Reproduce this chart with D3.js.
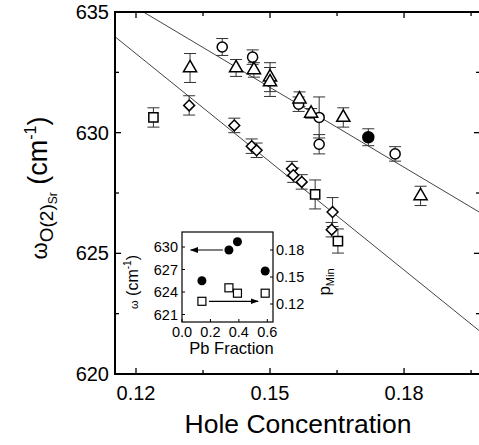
<!DOCTYPE html>
<html>
<head>
<meta charset="utf-8">
<script src="https://cdn.jsdelivr.net/npm/d3@7"></script>
<style>
  body { margin: 0; background: #fff; }
  svg { display: block; font-family: Arial, "Liberation Sans", sans-serif; }
</style>
</head>
<body>
<svg id="chart" width="479" height="445"></svg>
<script>
// main panel: hole concentration vs omega, error in cm-1
var circleX = [0.1393, 0.1461, 0.1564, 0.1610, 0.1610, 0.1780];
var circleY = [633.55, 633.13, 631.18, 630.63, 629.52, 629.12];
var circleErr = [0.35, 0.3, 0.3, 0.85, 0.4, 0.3];

var filledX = [0.1720];
var filledY = [629.81];
var filledErr = [0.35];

var triX = [0.1321, 0.1424, 0.1464, 0.1500, 0.1500, 0.1566, 0.1592, 0.1664, 0.1837];
var triY = [632.68, 632.68, 632.60, 632.30, 632.10, 631.39, 630.80, 630.63, 627.38];
var triErr = [0.6, 0.35, 0.3, 0.6, 0.6, 0.3, 0.2, 0.4, 0.4];

var diaX = [0.1319, 0.1420, 0.1459, 0.1470, 0.1549, 0.1552, 0.1571, 0.1640, 0.1638];
var diaY = [631.13, 630.30, 629.44, 629.27, 628.51, 628.24, 627.96, 626.71, 625.98];
var diaErr = [0.4, 0.3, 0.3, 0.3, 0.3, 0.3, 0.3, 0.6, 0.3];

var sqX = [0.1239, 0.1601, 0.1652];
var sqY = [630.63, 627.44, 625.51];
var sqErr = [0.4, 0.6, 0.5];

// linear fits: omega = intercept + slope * p
var fitIntercept = [648.42, 651.20];
var fitSlope = [-110.3, -149.4];

var xTicks = [0.12, 0.15, 0.18];
var xMinor = [0.135, 0.165, 0.195];
var yTicks = [620, 625, 630, 635];
var yMinor = [622.5, 627.5, 632.5];

// inset: Pb fraction
var pbX = [0.14, 0.33, 0.39, 0.585];
var pbOmega = [625.5, 629.6, 630.7, 626.8];
var pbOmegaErr = [0, 0.4, 0, 0];
var pbPmin = [0.123, 0.138, 0.132, 0.132];
var insetXTicks = [0.0, 0.2, 0.4, 0.6];
var insetYTicks = [621, 624, 627, 630];
var insetPTicks = [0.12, 0.15, 0.18];

var svg = d3.select('#chart');

var L = 115, R = 480, T = 12, B = 374;
var x = d3.scaleLinear().domain([0.1153, 0.1970]).range([L, R]);
var y = d3.scaleLinear().domain([620, 635]).range([B, T]);

svg.append('clipPath').attr('id', 'clip')
  .append('rect').attr('x', L).attr('y', T).attr('width', R - L).attr('height', B - T);

// fit lines
var fitLine = d3.line().x(function(d) { return x(d[0]); }).y(function(d) { return y(d[1]); });
var dom = x.domain();
for (var f = 0; f < fitSlope.length; f++) {
  var pts = dom.map(function(v) { return [v, fitIntercept[f] + fitSlope[f] * v]; });
  svg.append('path')
    .attr('clip-path', 'url(#clip)')
    .attr('d', fitLine(pts))
    .attr('fill', 'none')
    .attr('stroke', '#444')
    .attr('stroke-width', 1);
}

function zip(xs, ys, es) {
  return xs.map(function(v, i) { return { x: v, y: ys[i], e: es[i] }; });
}

function errorBars(data) {
  var g = svg.append('g').attr('stroke', '#333').attr('stroke-width', 1);
  data.forEach(function(d) {
    if (!d.e) return;
    var cx = x(d.x), y0 = y(d.y - d.e), y1 = y(d.y + d.e);
    g.append('line').attr('x1', cx).attr('x2', cx).attr('y1', y0).attr('y2', y1);
    g.append('line').attr('x1', cx - 6).attr('x2', cx + 6).attr('y1', y0).attr('y2', y0);
    g.append('line').attr('x1', cx - 6).attr('x2', cx + 6).attr('y1', y1).attr('y2', y1);
  });
}

function markers(data, type, size, fill) {
  svg.append('g').selectAll('path')
    .data(data)
    .enter()
    .append('path')
      .attr('transform', function(d) { return 'translate(' + x(d.x) + ',' + y(d.y) + ')'; })
      .attr('d', d3.symbol().type(type).size(size))
      .attr('fill', fill)
      .attr('stroke', '#000')
      .attr('stroke-width', 1.5);
}

var circles = zip(circleX, circleY, circleErr);
var filled = zip(filledX, filledY, filledErr);
var tris = zip(triX, triY, triErr);
var dias = zip(diaX, diaY, diaErr);
var sqs = zip(sqX, sqY, sqErr);

[circles, filled, tris, dias, sqs].forEach(errorBars);

markers(circles, d3.symbolCircle, 80, '#fff');
markers(filled, d3.symbolCircle, 95, '#000');
markers(tris, d3.symbolTriangle, 75, '#fff');
markers(dias, d3.symbolDiamond2 || d3.symbolDiamond, 75, '#fff');
markers(sqs, d3.symbolSquare, 85, '#fff');

// main frame and axes
svg.append('rect')
  .attr('x', L).attr('y', T).attr('width', R - L).attr('height', B - T)
  .attr('fill', 'none').attr('stroke', '#000').attr('stroke-width', 2);

var ticks = svg.append('g').attr('stroke', '#000').attr('stroke-width', 1.3);
xTicks.concat(xMinor).forEach(function(v) {
  var len = xTicks.indexOf(v) >= 0 ? 6 : 4;
  ticks.append('line').attr('x1', x(v)).attr('x2', x(v)).attr('y1', B).attr('y2', B - len);
  ticks.append('line').attr('x1', x(v)).attr('x2', x(v)).attr('y1', T).attr('y2', T + len);
});
yTicks.concat(yMinor).forEach(function(v) {
  var len = yTicks.indexOf(v) >= 0 ? 6 : 4;
  ticks.append('line').attr('x1', L).attr('x2', L + len).attr('y1', y(v)).attr('y2', y(v));
  ticks.append('line').attr('x1', R).attr('x2', R - len).attr('y1', y(v)).attr('y2', y(v));
});

svg.append('g').selectAll('text')
  .data(xTicks)
  .enter()
  .append('text')
    .attr('x', function(d) { return x(d); })
    .attr('y', B + 26)
    .attr('text-anchor', 'middle')
    .attr('font-size', 20)
    .text(function(d) { return d3.format('.2f')(d); });

svg.append('g').selectAll('text')
  .data(yTicks)
  .enter()
  .append('text')
    .attr('x', L - 6)
    .attr('y', function(d) { return y(d) + 7; })
    .attr('text-anchor', 'end')
    .attr('font-size', 20)
    .text(function(d) { return d; });

svg.append('text')
  .attr('x', 298)
  .attr('y', 433)
  .attr('text-anchor', 'middle')
  .attr('font-size', 26.5)
  .text('Hole Concentration');

var yl = svg.append('text')
  .attr('transform', 'translate(47,188) rotate(-90)')
  .attr('text-anchor', 'middle')
  .attr('font-size', 27);
yl.append('tspan').attr('font-size', 22).text('ω');
yl.append('tspan').attr('font-size', 19).attr('dy', 6).text('O(2)');
yl.append('tspan').attr('font-size', 12).attr('dy', 4).text('Sr');
yl.append('tspan').attr('dy', -10).text(' (cm');
yl.append('tspan').attr('font-size', 16).attr('dy', -11).text('-1');
yl.append('tspan').attr('dy', 11).text(')');

// inset
var iL = 182, iR = 273, iT = 232, iB = 322;
var ix = d3.scaleLinear().domain([0, 0.64]).range([iL, iR]);
var iy = d3.scaleLinear().domain([620, 632]).range([iB, iT]);
var ip = d3.scaleLinear().domain([0.1, 0.2]).range([iB, iT]);

svg.append('rect')
  .attr('x', iL).attr('y', iT).attr('width', iR - iL).attr('height', iB - iT)
  .attr('fill', '#fff').attr('stroke', '#000').attr('stroke-width', 1.2);

var it = svg.append('g').attr('stroke', '#000').attr('stroke-width', 1);
insetXTicks.forEach(function(v) {
  it.append('line').attr('x1', ix(v)).attr('x2', ix(v)).attr('y1', iB).attr('y2', iB - 3);
});
insetYTicks.forEach(function(v) {
  it.append('line').attr('x1', iL).attr('x2', iL + 3).attr('y1', iy(v)).attr('y2', iy(v));
});
insetPTicks.forEach(function(v) {
  it.append('line').attr('x1', iR).attr('x2', iR - 3).attr('y1', ip(v)).attr('y2', ip(v));
});

svg.append('g').selectAll('text')
  .data(insetXTicks).enter().append('text')
    .attr('x', function(d) { return ix(d); })
    .attr('y', iB + 15)
    .attr('text-anchor', 'middle')
    .attr('font-size', 14.5)
    .text(function(d) { return d3.format('.1f')(d); });

svg.append('g').selectAll('text')
  .data(insetYTicks).enter().append('text')
    .attr('x', iL - 4)
    .attr('y', function(d) { return iy(d) + 5; })
    .attr('text-anchor', 'end')
    .attr('font-size', 14.5)
    .text(function(d) { return d; });

svg.append('g').selectAll('text')
  .data(insetPTicks).enter().append('text')
    .attr('x', iR + 3)
    .attr('y', function(d) { return ip(d) + 5; })
    .attr('text-anchor', 'start')
    .attr('font-size', 14.5)
    .text(function(d) { return d3.format('.2f')(d); });

svg.append('text')
  .attr('x', (iL + iR) / 2 + 4)
  .attr('y', iB + 32)
  .attr('text-anchor', 'middle')
  .attr('font-size', 16.5)
  .text('Pb Fraction');

var il = svg.append('text')
  .attr('transform', 'translate(138,282) rotate(-90)')
  .attr('text-anchor', 'middle')
  .attr('font-size', 16);
il.append('tspan').attr('font-size', 11).text('ω');
il.append('tspan').text(' (cm');
il.append('tspan').attr('font-size', 10).attr('dy', -7).text('-1');
il.append('tspan').attr('dy', 7).text(')');

var pl = svg.append('text')
  .attr('transform', 'translate(330,282) rotate(-90)')
  .attr('text-anchor', 'middle')
  .attr('font-size', 17);
pl.append('tspan').text('p');
pl.append('tspan').attr('font-size', 11).attr('dy', 4).text('Min');

// arrows
var defs = svg.append('defs');
defs.append('marker')
  .attr('id', 'arrow')
  .attr('viewBox', '0 0 10 10')
  .attr('refX', 9).attr('refY', 5)
  .attr('markerWidth', 7).attr('markerHeight', 7)
  .attr('orient', 'auto')
  .append('path').attr('d', 'M0,1.5 L10,5 L0,8.5 Z').attr('fill', '#000');

svg.append('line')
  .attr('x1', ix(pbX[1]) - 6).attr('y1', iy(pbOmega[1]))
  .attr('x2', ix(0.06)).attr('y2', iy(pbOmega[1]))
  .attr('stroke', '#000').attr('stroke-width', 1.2)
  .attr('marker-end', 'url(#arrow)');
svg.append('line')
  .attr('x1', ix(pbX[0]) + 7).attr('y1', ip(pbPmin[0]))
  .attr('x2', ix(0.535)).attr('y2', ip(pbPmin[0]))
  .attr('stroke', '#000').attr('stroke-width', 1.2)
  .attr('marker-end', 'url(#arrow)');

var inset = pbX.map(function(v, i) { return { x: v, w: pbOmega[i], e: pbOmegaErr[i], p: pbPmin[i] }; });

inset.forEach(function(d) {
  if (!d.e) return;
  svg.append('line')
    .attr('x1', ix(d.x)).attr('x2', ix(d.x))
    .attr('y1', iy(d.w - d.e)).attr('y2', iy(d.w + d.e))
    .attr('stroke', '#666');
});

svg.append('g').selectAll('circle')
  .data(inset).enter().append('circle')
    .attr('cx', function(d) { return ix(d.x); })
    .attr('cy', function(d) { return iy(d.w); })
    .attr('r', 4.5)
    .attr('fill', '#000');

svg.append('g').selectAll('rect')
  .data(inset).enter().append('rect')
    .attr('x', function(d) { return ix(d.x) - 4; })
    .attr('y', function(d) { return ip(d.p) - 4; })
    .attr('width', 8).attr('height', 8)
    .attr('fill', '#fff')
    .attr('stroke', '#000')
    .attr('stroke-width', 1.2);
</script>
</body>
</html>
